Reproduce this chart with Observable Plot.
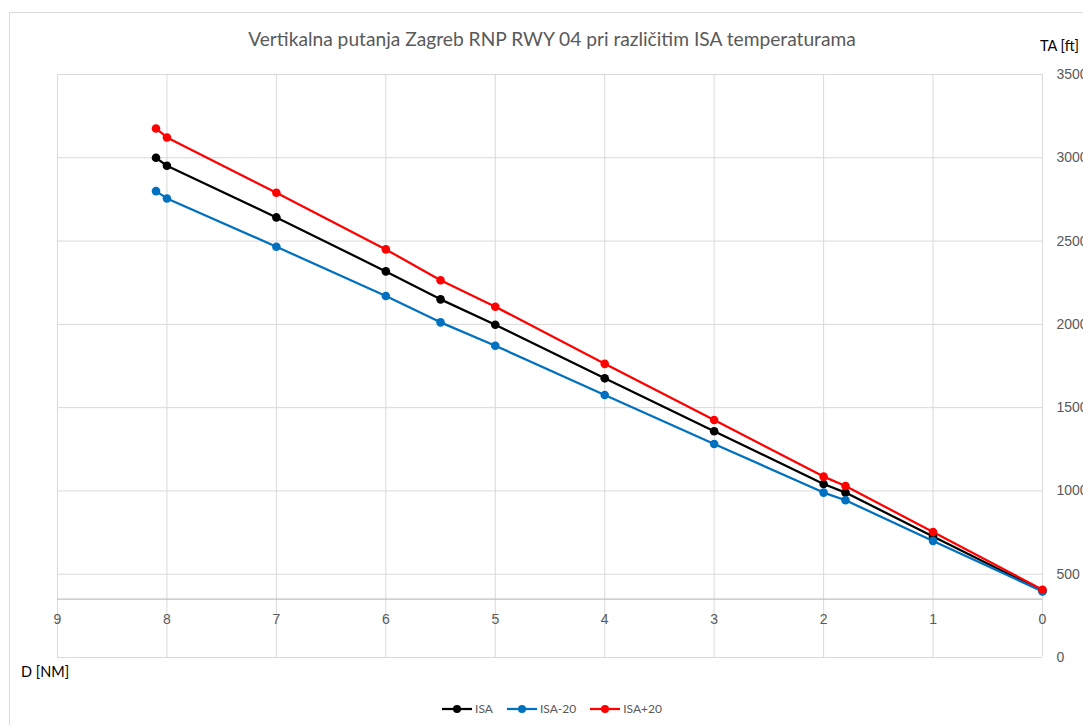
<!DOCTYPE html>
<html>
<head>
<meta charset="utf-8">
<script src="https://cdn.jsdelivr.net/npm/d3@7"></script>
<script src="https://cdn.jsdelivr.net/npm/@observablehq/plot@0.6"></script>
<style>
  html, body { margin: 0; padding: 0; background: #fff; overflow: hidden; }
  #wrap { position: relative; width: 1083px; height: 725px; overflow: hidden; }
  #border { position: absolute; left: 9px; top: 12px; width: 1200px; height: 800px; border: 1px solid #d9d9d9; box-sizing: border-box; }
  #title { position: absolute; left: 0; width: 1104px; top: 27px; text-align: center; font-family: Lato, "Open Sans", sans-serif; font-size: 19.2px; color: #595959; }
  #ta { position: absolute; left: 1040px; top: 37px; font-family: Lato, sans-serif; font-size: 14.5px; color: #000; white-space: nowrap; }
  #dnm { position: absolute; left: 21px; top: 663px; font-family: Lato, sans-serif; font-size: 14.5px; color: #000; }
  #chart { position: absolute; left: 0; top: 60px; }
  #legend { position: absolute; top: 701px; left: 0; width: 1104px; display: flex; justify-content: center; gap: 14px; font-family: Lato, sans-serif; font-size: 12px; color: #595959; }
  .item { display: flex; align-items: center; gap: 3px; }
</style>
</head>
<body>
<div id="wrap">
  <div id="border"></div>
  <div id="title">Vertikalna putanja Zagreb RNP RWY 04 pri različitim ISA temperaturama</div>
  <div id="ta">TA [ft]</div>
  <div id="dnm">D [NM]</div>
  <div id="chart"></div>
  <div id="legend"></div>
</div>
<script>
const distances = [8.1, 8, 7, 6, 5.5, 5, 4, 3, 2, 1.8, 1, 0];
const isa      = [3000, 2952, 2642, 2318, 2150, 1998, 1676, 1358, 1042, 990, 727, 400];
const isaM20   = [2800, 2756, 2466, 2170, 2012, 1872, 1576, 1282, 990, 944, 700, 397];
const isaP20   = [3176, 3122, 2790, 2450, 2265, 2106, 1763, 1426, 1086, 1030, 753, 407];
const seriesNames = ["ISA", "ISA-20", "ISA+20"];
const seriesColors = ["#000000", "#0070C0", "#FF0000"];
const xTicks = [9, 8, 7, 6, 5, 4, 3, 2, 1, 0];
const yTicks = [0, 500, 1000, 1500, 2000, 2500, 3000, 3500];
const axisCross = 350;

const seriesValues = [isa, isaM20, isaP20];
const data = [];
seriesNames.forEach((s, i) => {
  distances.forEach((d, j) => data.push({series: s, d, ta: seriesValues[i][j]}));
});

const chart = Plot.plot({
  width: 1083,
  height: 630,
  marginLeft: 57,
  marginRight: 41,
  marginTop: 14,
  marginBottom: 33,
  x: {domain: [9, 0], axis: null},
  y: {domain: [0, 3500], axis: null},
  color: {domain: seriesNames, range: seriesColors},
  style: {fontFamily: "'Liberation Sans', Arial, sans-serif", background: "transparent"},
  marks: [
    Plot.ruleX(xTicks, {x: d => d, y1: 0, y2: 3500, stroke: "#d9d9d9", strokeWidth: 1}),
    Plot.ruleY(yTicks, {y: d => d, x1: 9, x2: 0, stroke: "#d9d9d9", strokeWidth: 1}),
    Plot.ruleY([axisCross], {x1: 9, x2: 0, stroke: "#bfbfbf", strokeWidth: 1.2}),
    Plot.text(xTicks, {x: d => d, y: () => axisCross, dy: 20, text: d => String(d), fill: "#595959", fontSize: 14}),
    Plot.text(yTicks, {x: () => 0, y: d => d, dx: 14, text: d => String(d), textAnchor: "start", fill: "#595959", fontSize: 14}),
    Plot.line(data, {x: "d", y: "ta", z: "series", stroke: "series", strokeWidth: 2.25}),
    Plot.dot(data, {x: "d", y: "ta", fill: "series", r: 4.3})
  ]
});
document.getElementById("chart").appendChild(chart);

const legend = document.getElementById("legend");
seriesNames.forEach((s, i) => {
  const it = document.createElement("div");
  it.className = "item";
  it.innerHTML = `<svg width="30" height="10"><line x1="0" y1="5" x2="30" y2="5" stroke="${seriesColors[i]}" stroke-width="2.25"/><circle cx="15" cy="5" r="4" fill="${seriesColors[i]}"/></svg><span>${s}</span>`;
  legend.appendChild(it);
});
</script>
</body>
</html>
